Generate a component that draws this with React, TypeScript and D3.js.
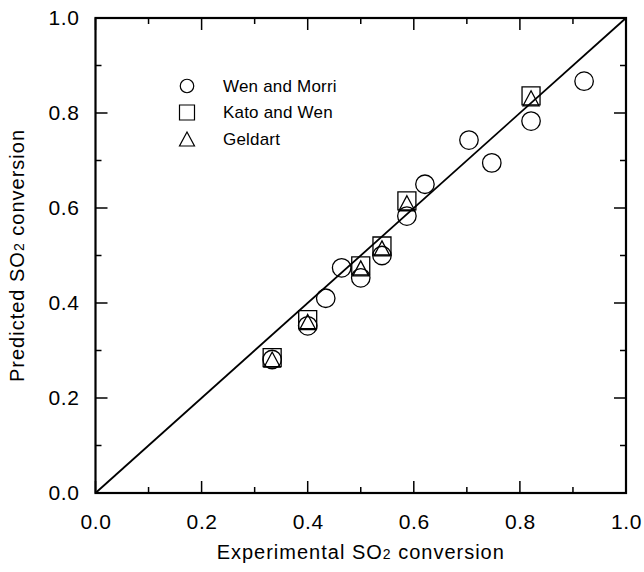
import React, { useEffect, useRef } from 'react';
import * as d3 from 'd3';

// data
const wenMorriX = [0.333, 0.40, 0.434, 0.464, 0.50, 0.54, 0.587, 0.621, 0.704, 0.747, 0.821, 0.921];
const wenMorriY = [0.281, 0.352, 0.41, 0.474, 0.453, 0.50, 0.583, 0.65, 0.743, 0.695, 0.783, 0.867];
const katoWenX = [0.333, 0.40, 0.50, 0.54, 0.587, 0.821];
const katoWenY = [0.285, 0.365, 0.478, 0.52, 0.615, 0.836];
const geldartX = [0.333, 0.40, 0.50, 0.54, 0.587, 0.821];
const geldartY = [0.281, 0.36, 0.473, 0.515, 0.61, 0.831];
const majorTicks = [0, 0.2, 0.4, 0.6, 0.8, 1.0];
const minorTicks = [0.1, 0.3, 0.5, 0.7, 0.9];
const seriesNames = ['Wen and Morri', 'Kato and Wen', 'Geldart'];

const W = 644;
const H = 572;
const FONT = '"Liberation Sans", Arial, Helvetica, sans-serif';

function App() {
    const svgRef = useRef<SVGSVGElement>(null);

    useEffect(() => {
        const svg = d3.select(svgRef.current);
        svg.selectAll('*').remove();

        const margin = { top: 18, right: 18, bottom: 79, left: 95.5 };
        const x = d3.scaleLinear().domain([0, 1]).range([margin.left, W - margin.right]);
        const y = d3.scaleLinear().domain([0, 1]).range([H - margin.bottom, margin.top]);
        const fmt = d3.format('.1f');

        // tick labels from d3 axes (tick lines drawn below)
        const labelAxis = (axis: any, tx: number, ty: number) => {
            const g = svg.append('g')
                .attr('transform', `translate(${tx},${ty})`)
                .call(axis);
            g.select('.domain').remove();
            g.selectAll('line').remove();
            g.selectAll('text')
                .style('font-family', FONT)
                .style('font-size', '21px')
                .style('letter-spacing', '0.6px')
                .attr('fill', '#000');
            return g;
        };
        labelAxis(d3.axisBottom(x).tickValues(majorTicks).tickSize(0).tickPadding(21).tickFormat(fmt as any), 0, y(0))
            .selectAll('text').attr('dy', '0.71em');
        labelAxis(d3.axisLeft(y).tickValues(majorTicks).tickSize(0).tickPadding(16).tickFormat(fmt as any), x(0), 0);

        // inward ticks on all four sides
        const ticks = svg.append('g').attr('stroke', '#000').attr('stroke-width', 1.5);
        const tickSets: [number[], number][] = [[majorTicks, 12], [minorTicks, 6]];
        tickSets.forEach(([vals, len]) => {
            ticks.append('g').selectAll('line').data(vals).join('line')
                .attr('x1', d => x(d)).attr('x2', d => x(d))
                .attr('y1', y(0)).attr('y2', y(0) - len);
            ticks.append('g').selectAll('line').data(vals).join('line')
                .attr('x1', d => x(d)).attr('x2', d => x(d))
                .attr('y1', y(1)).attr('y2', y(1) + len);
            ticks.append('g').selectAll('line').data(vals).join('line')
                .attr('y1', d => y(d)).attr('y2', d => y(d))
                .attr('x1', x(0)).attr('x2', x(0) + len);
            ticks.append('g').selectAll('line').data(vals).join('line')
                .attr('y1', d => y(d)).attr('y2', d => y(d))
                .attr('x1', x(1)).attr('x2', x(1) - len);
        });

        // frame
        svg.append('rect')
            .attr('x', x(0)).attr('y', y(1))
            .attr('width', x(1) - x(0)).attr('height', y(0) - y(1))
            .attr('fill', 'none').attr('stroke', '#000').attr('stroke-width', 2.2);

        // parity line
        svg.append('line')
            .attr('x1', x(0)).attr('y1', y(0))
            .attr('x2', x(1)).attr('y2', y(1))
            .attr('stroke', '#000').attr('stroke-width', 1.8);

        const marks = svg.append('g').attr('fill', 'none').attr('stroke', '#000').attr('stroke-width', 1.3);

        const circlePath = (d: number) => d3.symbol().type(d3.symbolCircle).size(Math.PI * d * d / 4)() as string;
        const squarePath = (s: number) => d3.symbol().type(d3.symbolSquare).size(s * s)() as string;
        const triPath = (w: number, h: number) => `M0,${-h * 0.5}L${w / 2},${h * 0.5}L${-w / 2},${h * 0.5}Z`;

        marks.selectAll('.wm').data(wenMorriX).join('path')
            .attr('d', circlePath(18.5))
            .attr('transform', (d, i) => `translate(${x(d)},${y(wenMorriY[i])})`);
        marks.selectAll('.kw').data(katoWenX).join('path')
            .attr('d', squarePath(18))
            .attr('transform', (d, i) => `translate(${x(d)},${y(katoWenY[i])})`);
        marks.selectAll('.gd').data(geldartX).join('path')
            .attr('d', triPath(16, 15))
            .attr('transform', (d, i) => `translate(${x(d)},${y(geldartY[i])})`);

        // legend
        const legend = svg.append('g').attr('transform', 'translate(187,86)');
        const shapes = [circlePath(13.5), squarePath(15), triPath(15, 14)];
        seriesNames.forEach((name, i) => {
            const row = legend.append('g').attr('transform', `translate(0,${i * 26.5})`);
            row.append('path').attr('d', shapes[i])
                .attr('fill', 'none').attr('stroke', '#000').attr('stroke-width', 1.2);
            row.append('text').attr('x', 36).attr('dy', '0.35em')
                .style('font-family', FONT).style('font-size', '17px')
                .style('letter-spacing', '0.2px')
                .text(name);
        });

        // axis titles
        const xt = svg.append('text')
            .attr('x', (x(0) + x(1)) / 2).attr('y', 559)
            .attr('text-anchor', 'middle')
            .style('font-family', FONT).style('font-size', '20px')
            .style('letter-spacing', '1px');
        xt.append('tspan').text('Experimental SO');
        xt.append('tspan').attr('font-size', '14px').text('2');
        xt.append('tspan').text(' conversion');

        const yt = svg.append('text')
            .attr('transform', `translate(24,${(y(0) + y(1)) / 2}) rotate(-90)`)
            .attr('text-anchor', 'middle')
            .style('font-family', FONT).style('font-size', '20px')
            .style('letter-spacing', '1px');
        yt.append('tspan').text('Predicted SO');
        yt.append('tspan').attr('font-size', '14px').text('2');
        yt.append('tspan').text(' conversion');
    }, []);

    return (
        <svg ref={svgRef} width={W} height={H}
             style={{ position: 'absolute', left: 0, top: 0, background: '#fff' }} />
    );
}

export default App;
